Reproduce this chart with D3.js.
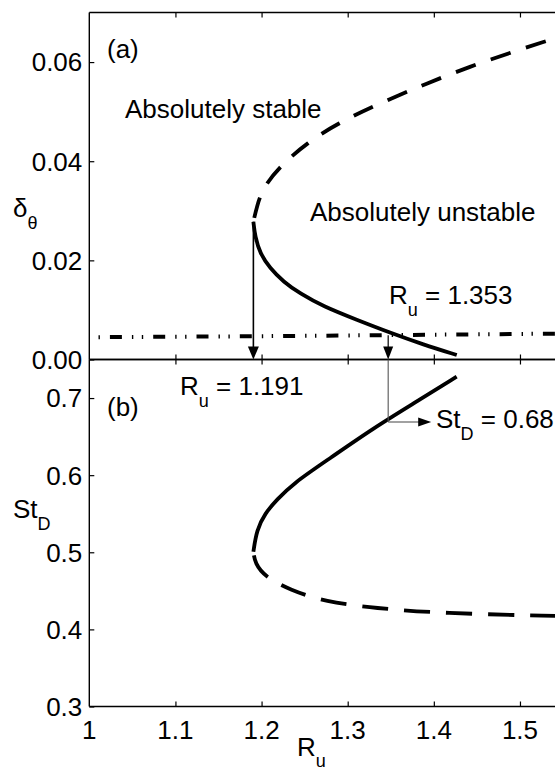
<!DOCTYPE html>
<html>
<head>
<meta charset="utf-8">
<script src="https://cdn.jsdelivr.net/npm/d3@7"></script>
<style>
  html, body { margin: 0; padding: 0; background: #fff; }
  svg { display: block; }
  text { font-family: "Liberation Sans", Arial, Helvetica, sans-serif; fill: #000; }
</style>
</head>
<body>
<svg id="chart" width="555" height="771"></svg>
<script>
// ---------------- data ----------------
const xTicks = [1, 1.1, 1.2, 1.3, 1.4, 1.5, 1.6];
const xTickLabels = ["1", "1.1", "1.2", "1.3", "1.4", "1.5"];
const topYTicks = [0, 0.02, 0.04, 0.06];
const botYTicks = [0.3, 0.4, 0.5, 0.6, 0.7];

// panel (a): momentum thickness vs velocity ratio
const aSolidRu    = [1.1905, 1.1925, 1.1982, 1.2098, 1.2253, 1.2446, 1.2717, 1.3105, 1.3491, 1.3879, 1.4266];
const aSolidDelta = [0.0278, 0.0248, 0.0214, 0.0184, 0.0157, 0.0133, 0.0107, 0.0080, 0.0054, 0.0030, 0.0009];
const aDashRu     = [1.1905, 1.1944, 1.2020, 1.2252, 1.2524, 1.2872, 1.3413, 1.3917, 1.4420, 1.4923, 1.5349, 1.58];
const aDashDelta  = [0.0278, 0.0308, 0.0349, 0.0396, 0.0436, 0.0476, 0.0520, 0.0557, 0.0591, 0.0621, 0.0645, 0.0668];
const aRefRu      = [1.005, 1.2, 1.4, 1.6];
const aRefDelta   = [0.0045, 0.0047, 0.0050, 0.0053];

// panel (b): Strouhal number vs velocity ratio
const bSolidRu = [1.1905, 1.1943, 1.2040, 1.2175, 1.2368, 1.2794, 1.3296, 1.3799, 1.4265];
const bSolidSt = [0.5007, 0.5289, 0.5506, 0.5678, 0.5895, 0.6219, 0.6608, 0.6953, 0.7277];
const bDashRu  = [1.1905, 1.1924, 1.2040, 1.2330, 1.2736, 1.3316, 1.4091, 1.5406, 1.58];
const bDashSt  = [0.5007, 0.4857, 0.4683, 0.4511, 0.4359, 0.4274, 0.4209, 0.4174, 0.4165];

// annotations
const arrowRu = [1.1905, 1.347];
const arrowRuLabels = ["1.191", "1.353"];
const refAtArrow = 0.0049;
const stMark = 0.669;
const stLabel = "0.68";

// ---------------- layout ----------------
const svg = d3.select("#chart");
const x = d3.scaleLinear().domain([1, 1.6]).range([89.3, 606.1]);
const yA = d3.scaleLinear().domain([0, 0.07]).range([359.5, 12.5]);
const yB = d3.scaleLinear().domain([0.3, 0.75]).range([706.5, 359.5]);
const FS = 26;

const zip = (a, b) => a.map((v, i) => [v, b[i]]);

const gA = svg.append("g");
const gB = svg.append("g");

function frame(g, y, yt, fmt, showX) {
  const [y0, y1] = y.range();
  g.append("line").attr("x1", x(1)).attr("x2", x(1)).attr("y1", y1).attr("y2", y0)
    .attr("stroke", "#000").attr("stroke-width", 1.4);
  g.append("line").attr("x1", x(1)).attr("x2", 560).attr("y1", y1).attr("y2", y1)
    .attr("stroke", "#000").attr("stroke-width", 1.4);
  g.append("line").attr("x1", x(1)).attr("x2", 560).attr("y1", y0).attr("y2", y0)
    .attr("stroke", "#000").attr("stroke-width", 1.4);
  const leftAxis = d3.axisRight(y).tickValues(yt).tickSize(5).tickFormat("");
  const la = g.append("g").attr("transform", `translate(${x(1)},0)`).call(leftAxis);
  la.select(".domain").remove();
  la.selectAll("line").attr("stroke-width", 1.2);
  g.selectAll(".ylab").data(yt).join("text")
    .attr("x", x(1) - 7).attr("y", d => y(d)).attr("dy", "0.36em")
    .attr("text-anchor", "end").attr("font-size", FS).text(d => fmt(d));
  const xt = xTicks.filter(d => d > 1);
  const topAx = d3.axisBottom(x).tickValues(xt).tickSize(5).tickFormat("");
  const ta = g.append("g").attr("transform", `translate(0,${y1})`).call(topAx);
  ta.select(".domain").remove();
  ta.selectAll("line").attr("stroke-width", 1.2);
  const botAx = d3.axisTop(x).tickValues(xt).tickSize(5).tickFormat("");
  const ba = g.append("g").attr("transform", `translate(0,${y0})`).call(botAx);
  ba.select(".domain").remove();
  ba.selectAll("line").attr("stroke-width", 1.2);
  if (showX) {
    g.selectAll(".xlab").data(xTickLabels).join("text")
      .attr("x", (d, i) => x(xTicks[i])).attr("y", y0 + 32)
      .attr("text-anchor", "middle").attr("font-size", FS)
      .text(d => d);
  }
}
frame(gA, yA, topYTicks, d3.format(".2f"), false);
frame(gB, yB, botYTicks, d3.format(".1f"), true);

// curves
const lineA = d3.line().x(d => x(d[0])).y(d => yA(d[1])).curve(d3.curveBasis);
const lineB = d3.line().x(d => x(d[0])).y(d => yB(d[1])).curve(d3.curveBasis);
const lineRef = d3.line().x(d => x(d[0])).y(d => yA(d[1]));

svg.append("clipPath").attr("id", "clipA").append("rect")
  .attr("x", x(1)).attr("y", yA.range()[1]).attr("width", 600).attr("height", yA.range()[0] - yA.range()[1]);
svg.append("clipPath").attr("id", "clipB").append("rect")
  .attr("x", x(1)).attr("y", yB.range()[1]).attr("width", 600).attr("height", yB.range()[0] - yB.range()[1]);

const cA = svg.append("g").attr("clip-path", "url(#clipA)");
const cB = svg.append("g").attr("clip-path", "url(#clipB)");

cA.append("path").attr("d", lineRef(zip(aRefRu, aRefDelta)))
  .attr("fill", "none").attr("stroke", "#000").attr("stroke-width", 4)
  .attr("stroke-dasharray", "12,10,1.4,8.5,1.4,10").attr("stroke-dashoffset", 27);
cA.append("path").attr("d", lineA(zip(aSolidRu, aSolidDelta)))
  .attr("fill", "none").attr("stroke", "#000").attr("stroke-width", 3.8);
cA.append("path").attr("d", lineA(zip(aDashRu, aDashDelta)))
  .attr("fill", "none").attr("stroke", "#000").attr("stroke-width", 3.8)
  .attr("stroke-dasharray", "21,16").attr("stroke-dashoffset", -4);

cB.append("path").attr("d", lineB(zip(bSolidRu, bSolidSt)))
  .attr("fill", "none").attr("stroke", "#000").attr("stroke-width", 3.8);
cB.append("path").attr("d", lineB(zip(bDashRu, bDashSt)))
  .attr("fill", "none").attr("stroke", "#000").attr("stroke-width", 3.8)
  .attr("stroke-dasharray", "26,16").attr("stroke-dashoffset", -4);

// arrows
const ann = svg.append("g");
{
  const ax = x(arrowRu[0]);
  const tipY = yA(0);
  ann.append("line").attr("x1", ax).attr("x2", ax).attr("y1", yA(aSolidDelta[0])).attr("y2", tipY - 10)
    .attr("stroke", "#000").attr("stroke-width", 1.6);
  ann.append("path").attr("d", `M${ax},${tipY} L${ax - 5.5},${tipY - 13} L${ax + 5.5},${tipY - 13} Z`).attr("fill", "#000");
}
{
  const ax = x(arrowRu[1]);
  const tipY = yA(0);
  const refY = yA(refAtArrow);
  ann.append("line").attr("x1", ax).attr("x2", ax).attr("y1", refY).attr("y2", tipY - 10)
    .attr("stroke", "#000").attr("stroke-width", 1.2);
  ann.append("path").attr("d", `M${ax},${tipY} L${ax - 5},${tipY - 13} L${ax + 5},${tipY - 13} Z`).attr("fill", "#000");
  const sy = yB(stMark);
  ann.append("line").attr("x1", ax).attr("x2", ax).attr("y1", tipY).attr("y2", sy)
    .attr("stroke", "#555").attr("stroke-width", 1.1);
  const tipX = ax + 43;
  ann.append("line").attr("x1", ax).attr("x2", tipX - 10).attr("y1", sy).attr("y2", sy)
    .attr("stroke", "#444").attr("stroke-width", 1.1);
  ann.append("path").attr("d", `M${tipX},${sy} L${tipX - 13},${sy - 4.5} L${tipX - 13},${sy + 4.5} Z`).attr("fill", "#000");
}

// text annotations
function txt(xp, yp, s, size) {
  return svg.append("text").attr("x", xp).attr("y", yp).attr("font-size", size || FS).text(s);
}
function sub(xp, yp, main, subs, rest, subDy) {
  const t = svg.append("text").attr("x", xp).attr("y", yp).attr("font-size", FS);
  t.append("tspan").text(main);
  t.append("tspan").attr("dy", subDy || 12).attr("font-size", 18).text(subs);
  if (rest) t.append("tspan").attr("dy", -(subDy || 12)).text(rest);
  return t;
}
txt(107, 58, "(a)");
txt(125, 118, "Absolutely stable");
txt(310, 221, "Absolutely unstable");
sub(389, 304, "R", "u", " = " + arrowRuLabels[1]);
sub(180, 395, "R", "u", " = " + arrowRuLabels[0]);
txt(107, 416, "(b)");
sub(436, 428, "St", "D", " = " + stLabel);

// axis titles
sub(13, 217, "δ", "θ", null, 12);
sub(13, 518, "St", "D", null, 12);
sub(297, 756, "R", "u", null, 11);
</script>
</body>
</html>
